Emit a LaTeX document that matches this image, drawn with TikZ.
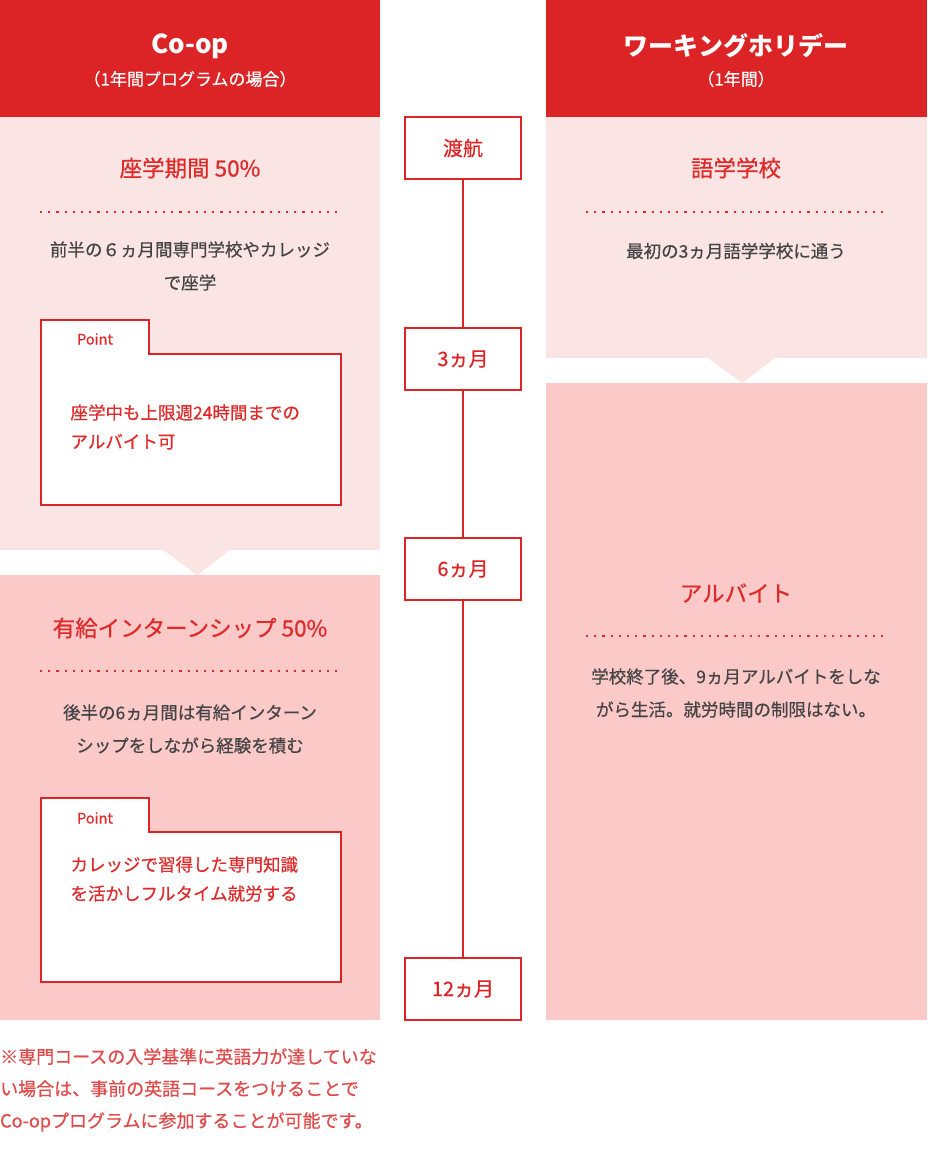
\documentclass[tikz,border=0pt]{standalone}
\usepackage{fontspec}
\setmainfont{Noto Sans CJK JP}
\newfontfamily\med{Noto Sans CJK JP}[FakeBold=0.6]
\definecolor{hred}{HTML}{DC2325}
\definecolor{lpink}{HTML}{FBE4E4}
\definecolor{dpink}{HTML}{FCC9C9}
\definecolor{tred}{HTML}{E02A2A}
\definecolor{tgray}{HTML}{444444}
\definecolor{fred}{HTML}{E04A4A}
\begin{document}
\begin{tikzpicture}[x=1pt,y=-1pt,
 hdr/.style={align=center,text=white,font=\fontsize{26}{30}\selectfont\bfseries},
 sub/.style={text=white,font=\med\fontsize{17}{20}\selectfont},
 ttl/.style={text=tred,font=\med\fontsize{22.5}{24}\selectfont},
 body/.style={text=tgray,font=\med\fontsize{17.5}{33}\selectfont,align=center},
 ptxt/.style={text=tred,font=\med\fontsize{17.5}{29}\selectfont,align=left,anchor=west},
 plab/.style={text=tred,font=\med\fontsize{14.5}{16}\selectfont},
 dots/.style={tred,line width=2.2pt,dash pattern=on 2.2pt off 6pt},
 tbox/.style={draw=hred,line width=2pt,fill=white,minimum width=116pt,minimum height=62pt,text=hred,font=\med\fontsize{20}{22}\selectfont},
 pbox/.style={draw=hred,line width=1.5pt,fill=white}]
\useasboundingbox (0,0) rectangle (927,1172);
% left column
\fill[hred] (0,0) rectangle (380,117);
\node[hdr] (coop) at (190,46) {Co-op};
\node[sub] (coopsub) at (190,79) {（1年間プログラムの場合）};
\fill[lpink] (0,117) rectangle (380,550);
\fill[lpink] (163,550) -- (230,550) -- (197,575) -- cycle;
\fill[dpink] (0,575) rectangle (380,1020);
% right column
\fill[hred] (546,0) rectangle (927,117);
\node[hdr,font=\fontsize{25}{28}\selectfont\bfseries] (wh) at (736,46) {ワーキングホリデー};
\node[sub] (whsub) at (736,79) {（1年間）};
\fill[lpink] (546,117) rectangle (927,358);
\fill[lpink] (708,358) -- (775,358) -- (742,383) -- cycle;
\fill[dpink] (546,383) rectangle (927,1020);
% left content
\node[ttl] (t1) at (190,168) {座学期間 50\%};
\draw[dots] (40,212) -- (340,212);
\node[body] (b1) at (190,266) {前半の６ヵ月間専門学校やカレッジ\\で座学};
\draw[pbox] (41,320) -- (149,320) -- (149,354) -- (341,354) -- (341,505) -- (41,505) -- cycle;
\node[plab] (p1) at (95,339) {Point};
\node[ptxt] (pt1) at (67,427) {座学中も上限週24時間までの\\アルバイト可};
\node[ttl] (t2) at (190,628) {有給インターンシップ 50\%};
\draw[dots] (40,671) -- (340,671);
\node[body] (b2) at (190,729) {後半の6ヵ月間は有給インターン\\シップをしながら経験を積む};
\draw[pbox] (41,798) -- (149,798) -- (149,832) -- (341,832) -- (341,982) -- (41,982) -- cycle;
\node[plab] (p2) at (95,818) {Point};
\node[ptxt] (pt2) at (67,879) {カレッジで習得した専門知識\\を活かしフルタイム就労する};
% right content
\node[ttl] (t3) at (736,168) {語学学校};
\draw[dots] (586,212) -- (886,212);
\node[body] (b3) at (736,251) {最初の3ヵ月語学学校に通う};
\node[ttl] (t4) at (736,593) {アルバイト};
\draw[dots] (586,636) -- (886,636);
\node[body] (b4) at (736,693) {学校終了後、9ヵ月アルバイトをしな\\がら生活。就労時間の制限はない。};
% timeline
\node[tbox] (m0) at (463,148) {渡航};
\node[tbox] (m3) at (463,359) {3ヵ月};
\node[tbox] (m6) at (463,569) {6ヵ月};
\node[tbox] (m12) at (463,989) {12ヵ月};
\draw[hred,line width=2pt] (m0) -- (m3) (m3) -- (m6) (m6) -- (m12);
% footnote
\node[text=fred,font=\med\fontsize{18}{32}\selectfont,align=left,anchor=north west,inner sep=0pt] (fn) at (0,1048) {※専門コースの入学基準に英語力が達していな\\い場合は、事前の英語コースをつけることで\\Co-opプログラムに参加することが可能です。};
\end{tikzpicture}
\end{document}
